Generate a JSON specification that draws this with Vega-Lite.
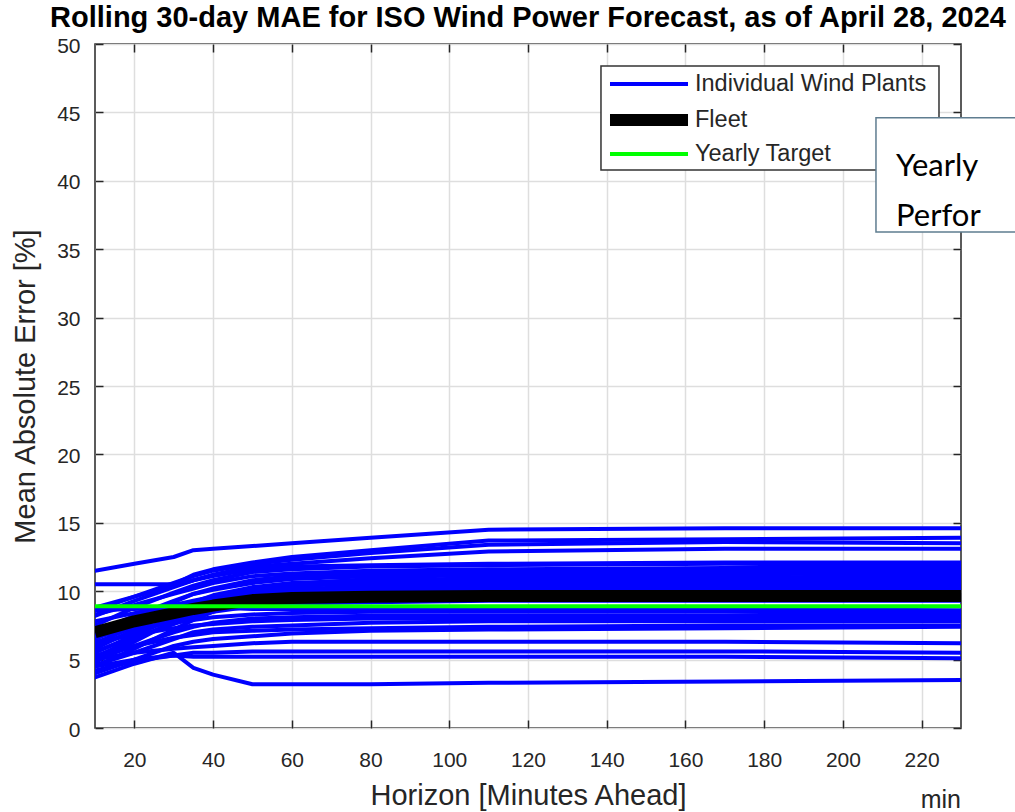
{
  "$schema": "https://vega.github.io/schema/vega-lite/v6.json",
  "width": 866,
  "height": 684,
  "autosize": {"type": "none"},
  "padding": {"left": 95, "top": 44, "right": 54, "bottom": 84},
  "background": "white",
  "title": {
    "text": "Rolling 30-day MAE for ISO Wind Power Forecast, as of April 28, 2024",
    "fontSize": 29,
    "fontWeight": "bold",
    "font": "Liberation Sans",
    "color": "black",
    "anchor": "middle",
    "offset": 2
  },
  "datasets": {
    "plants": [
      {"p":"A","h":10,"m":11.5},{"p":"A","h":20,"m":12.0},{"p":"A","h":30,"m":12.5},{"p":"A","h":35,"m":13.0},{"p":"A","h":40,"m":13.1},{"p":"A","h":50,"m":13.3},{"p":"A","h":60,"m":13.5},{"p":"A","h":80,"m":13.9},{"p":"A","h":110,"m":14.5},{"p":"A","h":170,"m":14.6},{"p":"A","h":230,"m":14.6},
      {"p":"B","h":10,"m":10.5},{"p":"B","h":20,"m":10.5},{"p":"B","h":30,"m":10.5},{"p":"B","h":35,"m":11.2},{"p":"B","h":40,"m":11.6},{"p":"B","h":50,"m":12.1},{"p":"B","h":60,"m":12.5},{"p":"B","h":80,"m":13.0},{"p":"B","h":110,"m":13.7},{"p":"B","h":170,"m":13.8},{"p":"B","h":230,"m":13.9},
      {"p":"C","h":10,"m":8.6},{"p":"C","h":20,"m":9.6},{"p":"C","h":30,"m":10.6},{"p":"C","h":35,"m":11.1},{"p":"C","h":40,"m":11.5},{"p":"C","h":50,"m":12.0},{"p":"C","h":60,"m":12.3},{"p":"C","h":80,"m":12.8},{"p":"C","h":110,"m":13.4},{"p":"C","h":170,"m":13.6},{"p":"C","h":230,"m":13.5},
      {"p":"D","h":10,"m":8.2},{"p":"D","h":20,"m":9.3},{"p":"D","h":30,"m":10.3},{"p":"D","h":35,"m":10.8},{"p":"D","h":40,"m":11.2},{"p":"D","h":50,"m":11.8},{"p":"D","h":60,"m":12.0},{"p":"D","h":80,"m":12.4},{"p":"D","h":110,"m":12.9},{"p":"D","h":170,"m":13.1},{"p":"D","h":230,"m":13.1},
      {"p":"E1","h":10,"m":8.8},{"p":"E1","h":20,"m":9.6},{"p":"E1","h":30,"m":10.4},{"p":"E1","h":35,"m":10.8},{"p":"E1","h":40,"m":11.1},{"p":"E1","h":50,"m":11.6},{"p":"E1","h":60,"m":11.8},{"p":"E1","h":80,"m":11.9},{"p":"E1","h":110,"m":12.0},{"p":"E1","h":170,"m":12.1},{"p":"E1","h":230,"m":12.1},
      {"p":"E2","h":10,"m":7.5},{"p":"E2","h":20,"m":8.8},{"p":"E2","h":30,"m":9.9},{"p":"E2","h":35,"m":10.4},{"p":"E2","h":40,"m":10.8},{"p":"E2","h":50,"m":11.4},{"p":"E2","h":60,"m":11.6},{"p":"E2","h":80,"m":11.8},{"p":"E2","h":110,"m":11.9},{"p":"E2","h":170,"m":12.0},{"p":"E2","h":230,"m":11.9},
      {"p":"E3","h":10,"m":8.3},{"p":"E3","h":20,"m":9.0},{"p":"E3","h":30,"m":9.8},{"p":"E3","h":35,"m":10.2},{"p":"E3","h":40,"m":10.6},{"p":"E3","h":50,"m":11.1},{"p":"E3","h":60,"m":11.3},{"p":"E3","h":80,"m":11.5},{"p":"E3","h":110,"m":11.6},{"p":"E3","h":170,"m":11.7},{"p":"E3","h":230,"m":11.7},
      {"p":"E4","h":10,"m":6.5},{"p":"E4","h":20,"m":7.8},{"p":"E4","h":30,"m":9.2},{"p":"E4","h":35,"m":9.8},{"p":"E4","h":40,"m":10.2},{"p":"E4","h":50,"m":10.8},{"p":"E4","h":60,"m":11.1},{"p":"E4","h":80,"m":11.3},{"p":"E4","h":110,"m":11.4},{"p":"E4","h":170,"m":11.5},{"p":"E4","h":230,"m":11.5},
      {"p":"E5","h":10,"m":7.0},{"p":"E5","h":20,"m":8.2},{"p":"E5","h":30,"m":9.3},{"p":"E5","h":35,"m":9.8},{"p":"E5","h":40,"m":10.1},{"p":"E5","h":50,"m":10.6},{"p":"E5","h":60,"m":10.9},{"p":"E5","h":80,"m":11.1},{"p":"E5","h":110,"m":11.2},{"p":"E5","h":170,"m":11.3},{"p":"E5","h":230,"m":11.3},
      {"p":"E6","h":10,"m":5.8},{"p":"E6","h":20,"m":7.2},{"p":"E6","h":30,"m":8.6},{"p":"E6","h":35,"m":9.2},{"p":"E6","h":40,"m":9.7},{"p":"E6","h":50,"m":10.3},{"p":"E6","h":60,"m":10.6},{"p":"E6","h":80,"m":10.8},{"p":"E6","h":110,"m":10.9},{"p":"E6","h":170,"m":11.0},{"p":"E6","h":230,"m":11.1},
      {"p":"E7","h":10,"m":6.2},{"p":"E7","h":20,"m":7.4},{"p":"E7","h":30,"m":8.6},{"p":"E7","h":35,"m":9.1},{"p":"E7","h":40,"m":9.5},{"p":"E7","h":50,"m":10.1},{"p":"E7","h":60,"m":10.4},{"p":"E7","h":80,"m":10.6},{"p":"E7","h":110,"m":10.7},{"p":"E7","h":170,"m":10.8},{"p":"E7","h":230,"m":10.9},
      {"p":"E8","h":10,"m":5.5},{"p":"E8","h":20,"m":6.8},{"p":"E8","h":30,"m":8.0},{"p":"E8","h":35,"m":8.6},{"p":"E8","h":40,"m":9.1},{"p":"E8","h":50,"m":9.8},{"p":"E8","h":60,"m":10.1},{"p":"E8","h":80,"m":10.4},{"p":"E8","h":110,"m":10.5},{"p":"E8","h":170,"m":10.6},{"p":"E8","h":230,"m":10.7},
      {"p":"E9","h":10,"m":4.8},{"p":"E9","h":20,"m":6.3},{"p":"E9","h":30,"m":7.8},{"p":"E9","h":35,"m":8.4},{"p":"E9","h":40,"m":8.9},{"p":"E9","h":50,"m":9.6},{"p":"E9","h":60,"m":9.9},{"p":"E9","h":80,"m":10.2},{"p":"E9","h":110,"m":10.3},{"p":"E9","h":170,"m":10.4},{"p":"E9","h":230,"m":10.5},
      {"p":"E10","h":10,"m":6.0},{"p":"E10","h":20,"m":7.0},{"p":"E10","h":30,"m":8.0},{"p":"E10","h":35,"m":8.5},{"p":"E10","h":40,"m":8.9},{"p":"E10","h":50,"m":9.5},{"p":"E10","h":60,"m":9.8},{"p":"E10","h":80,"m":10.0},{"p":"E10","h":110,"m":10.1},{"p":"E10","h":170,"m":10.2},{"p":"E10","h":230,"m":10.3},
      {"p":"E11","h":10,"m":5.2},{"p":"E11","h":20,"m":6.5},{"p":"E11","h":30,"m":7.7},{"p":"E11","h":35,"m":8.2},{"p":"E11","h":40,"m":8.7},{"p":"E11","h":50,"m":9.3},{"p":"E11","h":60,"m":9.6},{"p":"E11","h":80,"m":9.9},{"p":"E11","h":110,"m":10.0},{"p":"E11","h":170,"m":10.1},{"p":"E11","h":230,"m":10.2},
      {"p":"E12","h":10,"m":7.8},{"p":"E12","h":20,"m":8.4},{"p":"E12","h":30,"m":9.0},{"p":"E12","h":35,"m":9.3},{"p":"E12","h":40,"m":9.6},{"p":"E12","h":50,"m":10.1},{"p":"E12","h":60,"m":10.5},{"p":"E12","h":80,"m":10.9},{"p":"E12","h":110,"m":11.3},{"p":"E12","h":170,"m":11.6},{"p":"E12","h":230,"m":11.8},
      {"p":"E13","h":10,"m":6.8},{"p":"E13","h":20,"m":7.6},{"p":"E13","h":30,"m":8.4},{"p":"E13","h":35,"m":8.9},{"p":"E13","h":40,"m":9.3},{"p":"E13","h":50,"m":9.9},{"p":"E13","h":60,"m":10.3},{"p":"E13","h":80,"m":10.7},{"p":"E13","h":110,"m":11.0},{"p":"E13","h":170,"m":11.2},{"p":"E13","h":230,"m":11.4},
      {"p":"E14","h":10,"m":4.5},{"p":"E14","h":20,"m":5.8},{"p":"E14","h":30,"m":7.2},{"p":"E14","h":35,"m":7.9},{"p":"E14","h":40,"m":8.5},{"p":"E14","h":50,"m":9.4},{"p":"E14","h":60,"m":9.8},{"p":"E14","h":80,"m":10.2},{"p":"E14","h":110,"m":10.5},{"p":"E14","h":170,"m":10.7},{"p":"E14","h":230,"m":10.8},
      {"p":"F1","h":10,"m":6.6},{"p":"F1","h":20,"m":7.4},{"p":"F1","h":30,"m":8.2},{"p":"F1","h":35,"m":8.6},{"p":"F1","h":40,"m":9.0},{"p":"F1","h":50,"m":9.4},{"p":"F1","h":60,"m":9.6},{"p":"F1","h":80,"m":9.7},{"p":"F1","h":110,"m":9.8},{"p":"F1","h":170,"m":9.9},{"p":"F1","h":230,"m":9.9},
      {"p":"F2","h":10,"m":7.2},{"p":"F2","h":20,"m":7.8},{"p":"F2","h":30,"m":8.4},{"p":"F2","h":35,"m":8.8},{"p":"F2","h":40,"m":9.1},{"p":"F2","h":50,"m":9.4},{"p":"F2","h":60,"m":9.5},{"p":"F2","h":80,"m":9.6},{"p":"F2","h":110,"m":9.6},{"p":"F2","h":170,"m":9.6},{"p":"F2","h":230,"m":9.6},
      {"p":"F3","h":10,"m":5.6},{"p":"F3","h":20,"m":6.6},{"p":"F3","h":30,"m":7.6},{"p":"F3","h":35,"m":8.1},{"p":"F3","h":40,"m":8.5},{"p":"F3","h":50,"m":8.9},{"p":"F3","h":60,"m":9.1},{"p":"F3","h":80,"m":9.2},{"p":"F3","h":110,"m":9.3},{"p":"F3","h":170,"m":9.3},{"p":"F3","h":230,"m":9.3},
      {"p":"G1","h":10,"m":8.6},{"p":"G1","h":20,"m":8.7},{"p":"G1","h":30,"m":8.8},{"p":"G1","h":35,"m":8.8},{"p":"G1","h":40,"m":8.8},{"p":"G1","h":50,"m":8.7},{"p":"G1","h":60,"m":8.7},{"p":"G1","h":80,"m":8.7},{"p":"G1","h":110,"m":8.7},{"p":"G1","h":170,"m":8.7},{"p":"G1","h":230,"m":8.6},
      {"p":"G2","h":10,"m":6.9},{"p":"G2","h":20,"m":7.3},{"p":"G2","h":30,"m":7.7},{"p":"G2","h":35,"m":7.9},{"p":"G2","h":40,"m":8.1},{"p":"G2","h":50,"m":8.3},{"p":"G2","h":60,"m":8.4},{"p":"G2","h":80,"m":8.5},{"p":"G2","h":110,"m":8.5},{"p":"G2","h":170,"m":8.5},{"p":"G2","h":230,"m":8.4},
      {"p":"G3","h":10,"m":5.0},{"p":"G3","h":20,"m":6.0},{"p":"G3","h":30,"m":7.0},{"p":"G3","h":35,"m":7.4},{"p":"G3","h":40,"m":7.7},{"p":"G3","h":50,"m":8.0},{"p":"G3","h":60,"m":8.1},{"p":"G3","h":80,"m":8.2},{"p":"G3","h":110,"m":8.2},{"p":"G3","h":170,"m":8.2},{"p":"G3","h":230,"m":8.2},
      {"p":"G4","h":10,"m":6.3},{"p":"G4","h":20,"m":6.8},{"p":"G4","h":30,"m":7.3},{"p":"G4","h":35,"m":7.5},{"p":"G4","h":40,"m":7.6},{"p":"G4","h":50,"m":7.8},{"p":"G4","h":60,"m":7.9},{"p":"G4","h":80,"m":8.0},{"p":"G4","h":110,"m":8.0},{"p":"G4","h":170,"m":8.0},{"p":"G4","h":230,"m":8.0},
      {"p":"G5","h":10,"m":4.6},{"p":"G5","h":20,"m":5.5},{"p":"G5","h":30,"m":6.5},{"p":"G5","h":35,"m":7.0},{"p":"G5","h":40,"m":7.2},{"p":"G5","h":50,"m":7.4},{"p":"G5","h":60,"m":7.5},{"p":"G5","h":80,"m":7.7},{"p":"G5","h":110,"m":7.8},{"p":"G5","h":170,"m":7.8},{"p":"G5","h":230,"m":7.8},
      {"p":"G6","h":10,"m":5.3},{"p":"G6","h":20,"m":6.0},{"p":"G6","h":30,"m":6.6},{"p":"G6","h":35,"m":6.8},{"p":"G6","h":40,"m":7.0},{"p":"G6","h":50,"m":7.1},{"p":"G6","h":60,"m":7.2},{"p":"G6","h":80,"m":7.3},{"p":"G6","h":110,"m":7.4},{"p":"G6","h":170,"m":7.5},{"p":"G6","h":230,"m":7.5},
      {"p":"G7","h":10,"m":4.0},{"p":"G7","h":20,"m":5.0},{"p":"G7","h":30,"m":6.0},{"p":"G7","h":35,"m":6.3},{"p":"G7","h":40,"m":6.5},{"p":"G7","h":50,"m":6.7},{"p":"G7","h":60,"m":6.9},{"p":"G7","h":80,"m":7.1},{"p":"G7","h":110,"m":7.2},{"p":"G7","h":170,"m":7.3},{"p":"G7","h":230,"m":7.4},
      {"p":"H1","h":10,"m":5.0},{"p":"H1","h":20,"m":5.5},{"p":"H1","h":30,"m":5.8},{"p":"H1","h":35,"m":5.9},{"p":"H1","h":40,"m":6.0},{"p":"H1","h":50,"m":6.2},{"p":"H1","h":60,"m":6.3},{"p":"H1","h":80,"m":6.3},{"p":"H1","h":110,"m":6.3},{"p":"H1","h":170,"m":6.3},{"p":"H1","h":230,"m":6.2},
      {"p":"H2","h":10,"m":4.5},{"p":"H2","h":20,"m":5.0},{"p":"H2","h":30,"m":5.3},{"p":"H2","h":35,"m":5.5},{"p":"H2","h":40,"m":5.5},{"p":"H2","h":50,"m":5.6},{"p":"H2","h":60,"m":5.6},{"p":"H2","h":80,"m":5.6},{"p":"H2","h":110,"m":5.6},{"p":"H2","h":170,"m":5.6},{"p":"H2","h":230,"m":5.5},
      {"p":"H3","h":10,"m":4.2},{"p":"H3","h":20,"m":4.9},{"p":"H3","h":30,"m":5.3},{"p":"H3","h":35,"m":5.2},{"p":"H3","h":40,"m":5.2},{"p":"H3","h":50,"m":5.2},{"p":"H3","h":60,"m":5.2},{"p":"H3","h":80,"m":5.2},{"p":"H3","h":110,"m":5.2},{"p":"H3","h":170,"m":5.2},{"p":"H3","h":230,"m":5.1},
      {"p":"H4","h":10,"m":3.7},{"p":"H4","h":20,"m":4.7},{"p":"H4","h":30,"m":5.5},{"p":"H4","h":35,"m":4.4},{"p":"H4","h":40,"m":3.9},{"p":"H4","h":50,"m":3.2},{"p":"H4","h":60,"m":3.2},{"p":"H4","h":80,"m":3.2},{"p":"H4","h":110,"m":3.3},{"p":"H4","h":170,"m":3.4},{"p":"H4","h":230,"m":3.5}
    ],
    "fleet": [
      {"h":10,"m":7.0},{"h":20,"m":7.8},{"h":30,"m":8.4},{"h":35,"m":8.7},{"h":40,"m":8.95},{"h":50,"m":9.35},{"h":60,"m":9.5},{"h":80,"m":9.6},{"h":110,"m":9.65},{"h":170,"m":9.65},{"h":230,"m":9.65}
    ],
    "target": [{"h":10,"m":8.9},{"h":230,"m":8.9}],
    "one": [{}]
  },
  "resolve": {"axis": {"x": "independent", "y": "independent"}},
  "layer": [
    {
      "data": {"name": "plants"},
      "mark": {"type": "line", "strokeWidth": 4, "strokeCap": "round", "strokeJoin": "round", "clip": true},
      "encoding": {
        "x": {
          "field": "h", "type": "quantitative",
          "scale": {"domain": [10, 230], "nice": false, "zero": false},
          "axis": {
            "values": [20, 40, 60, 80, 100, 120, 140, 160, 180, 200, 220],
            "title": "Horizon [Minutes Ahead]",
            "grid": true, "domain": false,
            "tickSize": -8, "labelPadding": 29, "titlePadding": 11
          }
        },
        "y": {
          "field": "m", "type": "quantitative",
          "scale": {"domain": [0, 50], "nice": false, "zero": false},
          "axis": {
            "values": [0, 5, 10, 15, 20, 25, 30, 35, 40, 45, 50],
            "title": "Mean Absolute Error [%]",
            "grid": true, "domain": false,
            "tickSize": -8, "labelPadding": 23, "labelOffset": 2, "titlePadding": 16
          }
        },
        "detail": {"field": "p"},
        "color": {
          "datum": "Individual Wind Plants", "type": "nominal",
          "scale": {"domain": ["Individual Wind Plants", "Fleet", "Yearly Target"], "range": ["#0000ff", "#000000", "#00ff00"]},
          "legend": null
        }
      }
    },
    {
      "data": {"name": "fleet"},
      "mark": {"type": "line", "strokeWidth": 12, "strokeJoin": "round", "clip": true},
      "encoding": {
        "x": {"field": "h", "type": "quantitative", "axis": null},
        "y": {"field": "m", "type": "quantitative", "axis": null},
        "color": {"datum": "Fleet", "type": "nominal", "legend": null}
      }
    },
    {
      "data": {"name": "target"},
      "mark": {"type": "line", "strokeWidth": 4, "clip": true},
      "encoding": {
        "x": {"field": "h", "type": "quantitative", "axis": null},
        "y": {"field": "m", "type": "quantitative", "axis": null},
        "color": {"datum": "Yearly Target", "type": "nominal", "legend": null}
      }
    },
    {
      "data": {"name": "one"},
      "mark": {"type": "rect", "fill": "white", "stroke": "#333333", "strokeWidth": 1.5, "clip": false},
      "encoding": {
        "x": {"datum": 138.54, "type": "quantitative", "axis": null},
        "x2": {"datum": 224.41},
        "y": {"datum": 48.39, "type": "quantitative", "axis": null},
        "y2": {"datum": 40.79}
      }
    },
    {
      "data": {"name": "one"},
      "mark": {"type": "rule", "strokeWidth": 4},
      "encoding": {
        "x": {"datum": 140.83, "type": "quantitative", "axis": null},
        "x2": {"datum": 160.65},
        "y": {"datum": 47.08, "type": "quantitative", "axis": null},
        "color": {"datum": "Individual Wind Plants", "type": "nominal", "legend": null}
      }
    },
    {
      "data": {"name": "one"},
      "mark": {"type": "rule", "strokeWidth": 12},
      "encoding": {
        "x": {"datum": 140.83, "type": "quantitative", "axis": null},
        "x2": {"datum": 160.65},
        "y": {"datum": 44.44, "type": "quantitative", "axis": null},
        "color": {"datum": "Fleet", "type": "nominal", "legend": null}
      }
    },
    {
      "data": {"name": "one"},
      "mark": {"type": "rule", "strokeWidth": 4},
      "encoding": {
        "x": {"datum": 140.83, "type": "quantitative", "axis": null},
        "x2": {"datum": 160.65},
        "y": {"datum": 41.96, "type": "quantitative", "axis": null},
        "color": {"datum": "Yearly Target", "type": "nominal", "legend": null}
      }
    },
    {
      "data": {"name": "one"},
      "mark": {"type": "text", "text": "Individual Wind Plants", "align": "left", "baseline": "middle", "fontSize": 23.5, "color": "#262626"},
      "encoding": {
        "x": {"datum": 162.43, "type": "quantitative", "axis": null},
        "y": {"datum": 47.08, "type": "quantitative", "axis": null}
      }
    },
    {
      "data": {"name": "one"},
      "mark": {"type": "text", "text": "Fleet", "align": "left", "baseline": "middle", "fontSize": 23.5, "color": "#262626"},
      "encoding": {
        "x": {"datum": 162.43, "type": "quantitative", "axis": null},
        "y": {"datum": 44.44, "type": "quantitative", "axis": null}
      }
    },
    {
      "data": {"name": "one"},
      "mark": {"type": "text", "text": "Yearly Target", "align": "left", "baseline": "middle", "fontSize": 23.5, "color": "#262626"},
      "encoding": {
        "x": {"datum": 162.43, "type": "quantitative", "axis": null},
        "y": {"datum": 41.96, "type": "quantitative", "axis": null}
      }
    },
    {
      "data": {"name": "one"},
      "mark": {"type": "rect", "fill": "white", "stroke": "#5f7d90", "strokeWidth": 1.5, "clip": false},
      "encoding": {
        "x": {"datum": 208.4, "type": "quantitative", "axis": null},
        "x2": {"datum": 262},
        "y": {"datum": 44.6, "type": "quantitative", "axis": null},
        "y2": {"datum": 36.26}
      }
    },
    {
      "data": {"name": "one"},
      "mark": {"type": "text", "text": "Yearly", "align": "left", "baseline": "alphabetic", "font": "Lato", "fontSize": 31, "color": "black", "clip": false},
      "encoding": {
        "x": {"datum": 213.5, "type": "quantitative", "axis": null},
        "y": {"datum": 40.35, "type": "quantitative", "axis": null}
      }
    },
    {
      "data": {"name": "one"},
      "mark": {"type": "text", "text": "Perfor", "align": "left", "baseline": "alphabetic", "font": "Lato", "fontSize": 31, "color": "black", "clip": false},
      "encoding": {
        "x": {"datum": 213.5, "type": "quantitative", "axis": null},
        "y": {"datum": 36.7, "type": "quantitative", "axis": null}
      }
    },
    {
      "data": {"name": "one"},
      "mark": {"type": "text", "text": "min", "align": "right", "baseline": "alphabetic", "font": "Liberation Sans", "fontSize": 25, "color": "#262626", "clip": false},
      "encoding": {
        "x": {
          "datum": 230, "type": "quantitative",
          "axis": {"orient": "top", "values": [20, 40, 60, 80, 100, 120, 140, 160, 180, 200, 220], "labels": false, "grid": false, "domain": false, "tickSize": -8, "title": null}
        },
        "y": {
          "datum": -5.85, "type": "quantitative",
          "axis": {"orient": "right", "values": [0, 5, 10, 15, 20, 25, 30, 35, 40, 45, 50], "labels": false, "grid": false, "domain": false, "tickSize": -8, "title": null}
        }
      }
    }
  ],
  "config": {
    "font": "Liberation Sans",
    "view": {"stroke": "#262626", "strokeWidth": 1.5},
    "axis": {
      "gridColor": "#dedede", "gridWidth": 1.5, "gridOpacity": 1,
      "tickColor": "#262626", "tickWidth": 1.5,
      "labelFont": "Liberation Sans", "labelFontSize": 21, "labelColor": "#262626",
      "titleFont": "Liberation Sans", "titleFontSize": 29, "titleFontWeight": "normal", "titleColor": "#262626"
    }
  }
}
